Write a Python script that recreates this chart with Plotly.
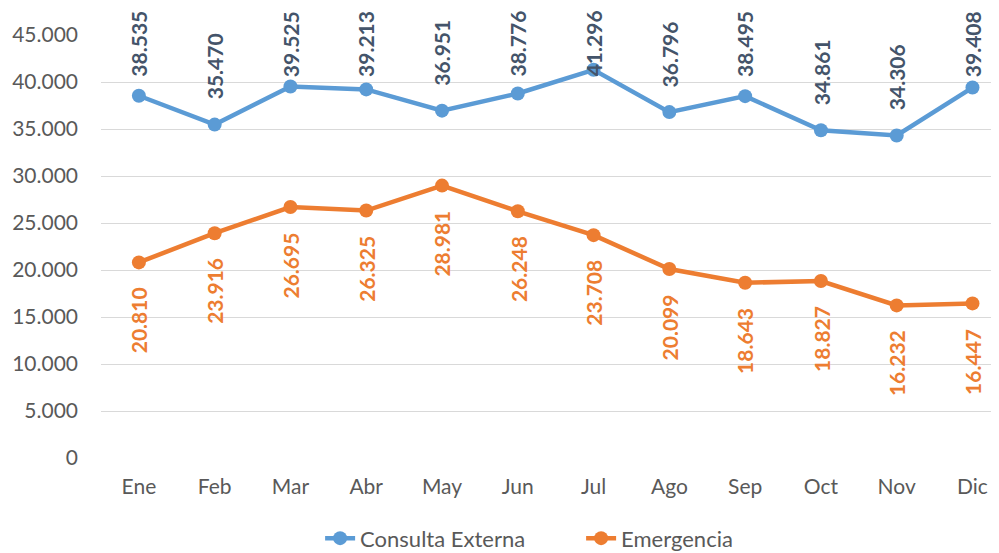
import plotly.graph_objects as go

months = ["Ene", "Feb", "Mar", "Abr", "May", "Jun", "Jul", "Ago", "Sep", "Oct", "Nov", "Dic"]
consulta_externa = [38535, 35470, 39525, 39213, 36951, 38776, 41296, 36796, 38495, 34861, 34306, 39408]
emergencia = [20810, 23916, 26695, 26325, 28981, 26248, 23708, 20099, 18643, 18827, 16232, 16447]
y_ticks = [0, 5000, 10000, 15000, 20000, 25000, 30000, 35000, 40000, 45000]

BLUE = "#5B9BD5"
ORANGE = "#ED7D31"
BLUE_LABEL = "#44546A"
GREY = "#595959"
FONT = "Lato"
LABEL_CAP = 37900  # labels pushed down so they stay inside chart area


def fmt(v):
    return f"{v:,}".replace(",", ".")


fig = go.Figure()
fig.add_trace(go.Scatter(
    x=months, y=consulta_externa, name="Consulta Externa", mode="lines+markers",
    line=dict(color=BLUE, width=4.5), marker=dict(color=BLUE, size=14),
    cliponaxis=False,
))
fig.add_trace(go.Scatter(
    x=months, y=emergencia, name="Emergencia", mode="lines+markers",
    line=dict(color=ORANGE, width=4.5), marker=dict(color=ORANGE, size=14),
    cliponaxis=False,
))

annotations = []
for m, v in zip(months, consulta_externa):
    annotations.append(dict(
        x=m, y=min(v, LABEL_CAP), xref="x", yref="y", text=fmt(v), textangle=-90,
        showarrow=False, xanchor="center", yanchor="bottom", yshift=23,
        font=dict(family=FONT, size=21, color=BLUE_LABEL, weight="bold"),
    ))
for m, v in zip(months, emergencia):
    annotations.append(dict(
        x=m, y=v, xref="x", yref="y", text=fmt(v), textangle=-90,
        showarrow=False, xanchor="center", yanchor="top", yshift=-23,
        font=dict(family=FONT, size=21, color=ORANGE, weight="bold"),
    ))

fig.update_layout(
    width=991, height=545,
    margin=dict(l=93, r=0, t=27, b=95, autoexpand=False),
    paper_bgcolor="white", plot_bgcolor="white",
    separators=",.",
    font=dict(family=FONT, size=21, color=GREY),
    showlegend=True,
    legend=dict(orientation="h", x=0.244, xanchor="left", y=-0.19, yanchor="middle",
                font=dict(family=FONT, size=22, color=GREY),
                entrywidth=216, entrywidthmode="pixels"),
    annotations=annotations,
    xaxis=dict(type="category", range=[-0.5, 11.35], showgrid=False, showline=False,
               zeroline=False, ticks="", ticklabelstandoff=14, automargin=False,
               tickfont=dict(family=FONT, size=21, color=GREY)),
    yaxis=dict(range=[0, 45000], tickvals=y_ticks, tickformat=",d", showgrid=True,
               gridcolor="#D9D9D9", gridwidth=1.3, zeroline=False, showline=False,
               ticks="", ticklabelstandoff=22, automargin=False,
               tickfont=dict(family=FONT, size=21, color=GREY)),
)

fig.write_html("out.html")
